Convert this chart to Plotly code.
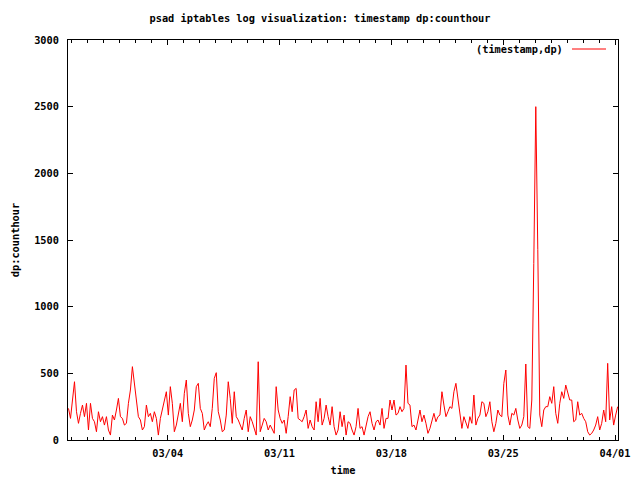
import pandas as pd
import plotly.graph_objects as go

# 3-hourly samples (dp count per hour)
start_time = "2009-02-25 19:00"
step_hours = 3
seg1 = [237, 162, 300, 437, 212, 125, 200, 262, 175, 275, 75, 275, 162, 137, 62, 212,
        137, 175, 112, 175, 75, 37, 187, 150, 225, 312, 175, 162, 112, 125, 275, 375,
        550, 437, 300]
seg2 = [175, 150, 75, 100, 262, 175, 200, 137, 212, 162, 37, 162, 225, 275, 362, 187,
        400, 275, 62, 112, 200, 275, 137, 350, 450, 200, 100, 150, 225, 400, 425, 237,
        200, 75]
seg3 = [112, 137, 100, 237, 462, 505, 212, 150, 62, 75, 187, 437, 312, 125, 362, 175,
        150, 112, 75, 162, 225, 62, 175, 137, 75, 37, 587, 62, 112, 162, 137, 75,
        112, 75, 50]
seg4 = [400, 225, 162, 125, 150, 50, 175, 325, 212, 375, 387, 162, 150, 137, 175, 225,
        87, 150, 100, 75, 287, 137, 312, 112, 162, 262, 175, 112, 250, 100, 37, 75,
        212, 100, 187]
seg5 = [37, 137, 125, 75, 37, 100, 237, 87, 100, 37, 112, 175, 212, 125, 75, 137,
        150, 112, 237, 87, 162, 162, 300, 225, 300, 187, 200, 250, 212, 237, 562, 275,
        262, 100, 112]
seg6 = [75, 150, 225, 137, 187, 125, 50, 87, 137, 200, 137, 175, 187, 362, 262, 175,
        212, 250, 237, 362, 425, 300, 175, 87, 175, 137, 87, 175, 125, 337, 112, 162,
        187, 287, 275]
seg7 = [175, 212, 287, 137, 62, 125, 225, 187, 175, 425, 525, 187, 112, 200, 187, 237,
        150, 87, 112, 175, 570, 100, 87, 300, 1325, 2500, 1430, 187, 100, 225, 250, 250,
        325, 275, 400]
seg8 = [200, 125, 275, 362, 312, 412, 350, 300, 300, 137, 150, 287, 187, 200, 162, 137,
        62, 37, 50, 75, 112, 175, 75, 125, 225, 137, 575, 150, 250, 112, 187, 250]

values = seg1 + seg2 + seg3 + seg4 + seg5 + seg6 + seg7 + seg8
times = pd.date_range(start=start_time, periods=len(values), freq=f"{step_hours}h")

x_range = ["2009-02-25 18:15", "2009-04-01 04:30"]
y_ticks = [0, 500, 1000, 1500, 2000, 2500, 3000]

FONT = "DejaVu Sans Mono"
FS = 10.3

fig = go.Figure()
fig.add_trace(go.Scatter(
    x=times, y=values, mode="lines",
    line=dict(color="#ff0000", width=1),
    name="(timestamp,dp)", showlegend=False,
))

fig.update_layout(
    width=640, height=480,
    paper_bgcolor="white", plot_bgcolor="white",
    margin=dict(l=60, r=30, t=32, b=48, autoexpand=False),
    font=dict(family=FONT, size=FS, color="black", weight="bold"),
    title=dict(text="psad iptables log visualization: timestamp dp:counthour",
               x=312 / 640, xref="container", xanchor="center",
               y=1 - 10 / 480, yref="container", yanchor="middle",
               font=dict(family=FONT, size=FS, color="black", weight="bold")),
)

fig.update_xaxes(
    type="date", range=x_range,
    showgrid=False, zeroline=False,
    showline=True, linecolor="black", linewidth=1, mirror="ticks",
    ticks="inside", ticklen=5, tickcolor="black",
    tick0="2009-03-04", dtick=7 * 86400000, tickformat="%m/%d",
    minor=dict(ticks="inside", ticklen=3, tickcolor="black",
               tick0="2009-03-04", dtick=86400000, showgrid=False),
    ticklabelstandoff=4,
    title=dict(text="time", standoff=8,
               font=dict(family=FONT, size=FS, weight="bold")),
    automargin=False,
)
fig.update_yaxes(
    range=[0, 3000], tickvals=y_ticks,
    showgrid=False, zeroline=False,
    showline=True, linecolor="black", linewidth=1, mirror="ticks",
    ticks="inside", ticklen=5, tickcolor="black",
    ticklabelstandoff=6,
    title=dict(text="dp:counthour", standoff=12,
               font=dict(family=FONT, size=FS, weight="bold")),
    automargin=False,
)

# gnuplot-style key: label followed by a line sample, top-right inside the plot
fig.add_annotation(
    text="(timestamp,dp)", xref="paper", yref="paper",
    x=(565 - 68) / 550, y=(440 - 49) / 400, xanchor="right", yanchor="middle",
    showarrow=False, font=dict(family=FONT, size=FS, color="black", weight="bold"),
)
fig.add_shape(
    type="line", xref="paper", yref="paper",
    x0=(572 - 68) / 550, x1=(606 - 68) / 550,
    y0=(440 - 49) / 400, y1=(440 - 49) / 400,
    line=dict(color="#ff0000", width=1),
)

fig.write_html("out.html")
